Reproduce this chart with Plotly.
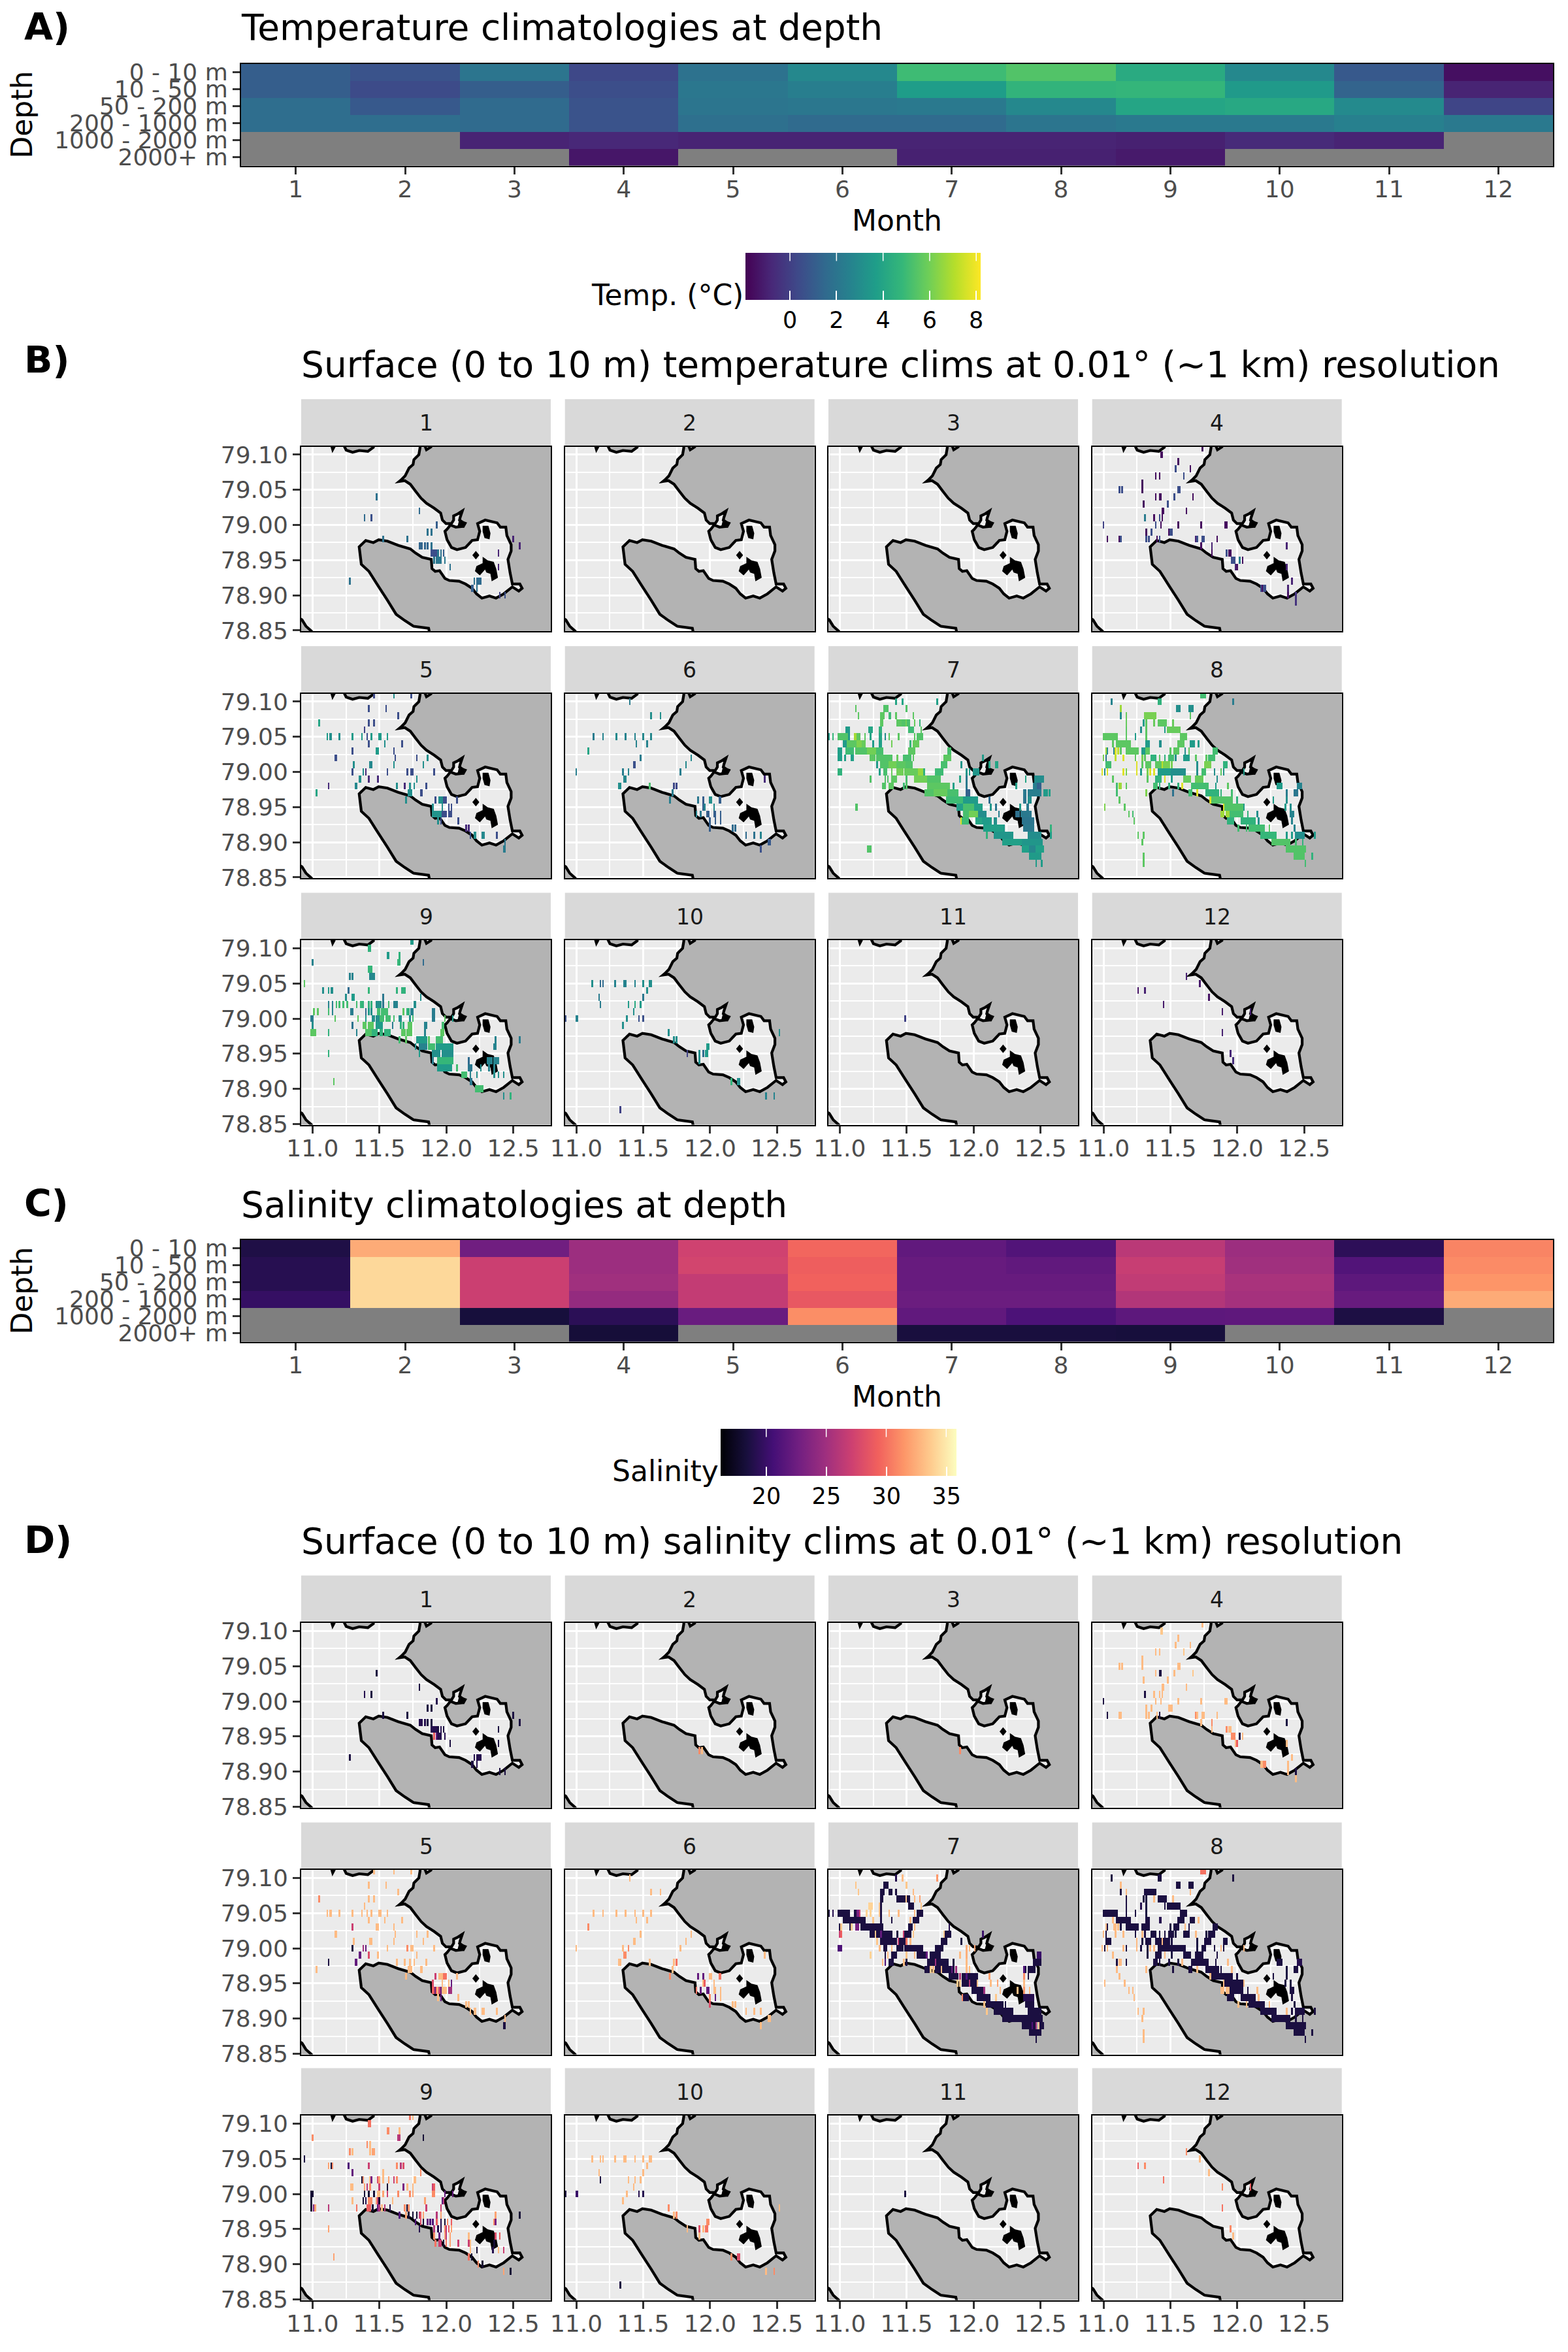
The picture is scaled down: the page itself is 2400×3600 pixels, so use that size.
import plotly.graph_objects as go

W, H = 2400, 3600
MONTHS = list(range(1, 13))
DEPTHS = ["0 - 10 m", "10 - 50 m", "50 - 200 m", "200 - 1000 m", "1000 - 2000 m", "2000+ m"]
N = None

# depth climatologies: one list per depth, 12 months
TEMP_DEPTH = [
    [1.1, 0.7, 2.0, 0.3, 1.9, 2.8, 5.0, 5.4, 4.25, 2.8, 0.9, -1.5],
    [1.1, 0.4, 1.1, 0.5, 2.1, 2.4, 3.65, 4.65, 4.75, 3.55, 1.3, -0.9],
    [1.7, 0.9, 1.6, 0.7, 2.0, 2.1, 2.2, 2.8, 4.0, 4.15, 2.9, 0.2],
    [1.7, 1.7, 1.6, 0.7, 1.8, 1.6, 1.6, 2.0, 2.2, 2.2, 2.5, 2.2],
    [N, N, -0.9, -0.8, -0.9, -0.9, -0.9, -0.9, -1.0, -0.7, -0.9, N],
    [N, N, N, -1.3, N, N, -1.0, -1.0, -1.2, N, N, N],
]
SAL_DEPTH = [
    [18.7, 32.3, 22.6, 24.8, 27.2, 29.5, 21.9, 21.2, 26.2, 24.8, 19.4, 30.7],
    [19.1, 34.2, 27.0, 24.8, 27.4, 29.1, 22.2, 21.9, 26.8, 25.0, 21.2, 31.0],
    [19.1, 34.2, 27.0, 25.0, 26.6, 29.3, 22.2, 22.2, 26.5, 25.4, 21.7, 31.4],
    [19.8, 34.2, 27.0, 24.4, 26.6, 28.7, 22.4, 22.4, 25.8, 25.2, 22.2, 32.3],
    [N, N, 18.3, 19.3, 22.3, 31.1, 21.9, 20.9, 21.7, 21.8, 18.6, N],
    [N, N, N, 18.2, N, N, 18.4, 18.4, 18.3, N, N, N],
]

# colour limits
T_MIN, T_MAX = -1.91, 8.19
S_MIN, S_MAX = 16.17, 35.8
T_TICKS = [0, 2, 4, 6, 8]
S_TICKS = [20, 25, 30, 35]

# Surface tiles. {latitude: [(lon_hundredths_above_11, value) or (first, last, value)]}
T_TILES = {
1: {79.04:[(48,1.9)],79.02:[(80,1.6)],79.01:[(39,1.6),(44,.6)],79.00:[(93,1.1)],78.99:[(86,1.9),(89,1.9)],
    78.98:[(53,1.9),(71,1.9),(150,-.9)],78.97:[(80,82,1.4),(84,1.4),(86,1.4),(89,1.9),(155,-.9)],
    78.96:[(89,93,.5),(94,2.1),(96,1.9),(98,1.1),(139,-.9)],78.95:[(91,2.1),(93,96,2.1),(99,2.1)],
    78.94:[(103,1.9),(139,-.9)],78.92:[(28,1.9),(121,1.9),(123,126,1.6)],78.91:[(119,120,1.1),(123,1.9)],
    78.90:[(140,.1),(144,.6)]},
2: {},
3: {},
4: {79.11:[(74,-1.6)],79.10:[(43,44,-1.6)],79.09:[(56,-1.6)],79.08:[(54,.5),(65,-1.6)],79.07:[(39,-1.6),(42,-1.6),(60,.5)],
    79.06:[(29,-1.6)],79.05:[(12,.5),(14,.5),(29,-1.6),(56,57,.5)],79.04:[(39,-1.6),(42,43,-1.6),(53,.5),(67,-1.6)],
    79.03:[(30,-1.6),(48,.5)],79.02:[(44,45,-1.6),(62,-1.6)],79.01:[(31,2.3),(38,-1.6),(42,.5),(44,-1.6)],
    79.00:[(0,.1),(39,.5),(43,-1.6),(56,-1.6),(73,-1.6),(91,92,-1.6)],78.99:[(32,-1.6),(36,.5),(49,-1.6),(50,51,.5)],
    78.98:[(3,-1.6),(12,-1.6),(13,.5),(32,.5),(34,.5),(40,-1.6),(42,.5),(69,-.9),(70,.5),(74,75,.5),(85,-1.6)],
    78.97:[(73,-1.6),(81,-.9),(137,-.9)],78.96:[(81,-1.6),(92,.5),(94,95,-1.6)],78.95:[(96,98,.5),(102,2.3),(104,-1.6)],
    78.94:[(99,-.9),(100,-1.4),(137,-.9)],78.92:[(141,-.9)],78.91:[(118,.5),(119,-1.6),(120,121,.5),(138,-.9)],
    78.90:[(138,-1.4),(144,-.4)],78.89:[(144,-.4)]},
5: {79.11:[(46,.3),(61,3.1),(74,.5)],79.09:[(42,.5),(55,.5)],79.08:[(64,.5)],79.07:[(5,4.0),(42,.5),(46,.5)],79.06:[(39,.1)],
    79.05:[(11,3.6),(13,14,3.1),(20,3.1),(30,3.6),(37,3.6),(41,.5),(44,3.6),(50,51,3.6),(56,3.6)],
    79.04:[(42,.5),(54,3.1),(67,.5)],79.03:[(30,.5),(48,49,3.6),(61,.5)],79.02:[(17,18,.5),(62,.5),(78,.5),(86,3.1)],
    79.01:[(31,3.1),(43,44,2.8),(61,3.1),(83,3.1)],79.00:[(30,.5),(38,3.1),(40,-.7),(56,.5),(71,.5),(74,75,.5),(91,.5)],
    78.99:[(35,36,3.1),(42,-.7),(49,-.7),(78,3.1)],78.98:[(12,-.7),(32,33,2.8),(63,3.1),(69,-.7),(73,3.1),(76,3.1),(85,.5)],
    78.97:[(3,4.0),(72,74,3.1),(81,82,.5)],78.96:[(70,3.1),(92,.5),(95,97,3.1),(98,100,.5),(108,.5)],
    78.95:[(90,3.1),(97,3.1),(102,.5),(104,.5)],78.94:[(90,96,3.3),(97,100,.5),(102,104,.5)],78.93:[(94,3.1),(96,.5),(109,.5)],
    78.92:[(115,-.7),(117,-.7)],78.91:[(118,.5),(121,122,3.1),(127,128,2.8),(138,.5)],78.90:[(144,2.1)],78.89:[(143,144,2.3)]},
6: {79.10:[(40,2.3)],79.08:[(56,3.1),(63,3.1)],79.05:[(13,2.3),(20,2.6),(30,2.9),(37,2.6),(44,2.6),(50,2.8),(56,2.8)],
    79.04:[(45,2.6),(53,2.6)],79.03:[(9,4.0)],79.02:[(48,2.3),(86,2.8)],79.01:[(43,44,.6),(82,2.8)],
    79.00:[(0,2.4),(35,2.4),(39,2.6),(78,2.4)],78.99:[(36,37,2.8),(141,-.7)],78.98:[(32,33,3.1),(55,5.2),(73,.3),(75,.3)],
    78.97:[(72,2.3)],78.96:[(70,2.4),(91,2.1),(95,1.1),(100,101,3.1),(107,108,1.1)],78.95:[(95,1.1),(96,2.6),(103,2.9)],
    78.94:[(90,2.6),(93,2.1),(98,99,1.1),(103,104,1.1),(108,1.1)],78.93:[(100,1.1),(104,1.1),(108,1.1)],
    78.92:[(100,1.1),(117,1.6),(119,1.6)],78.91:[(127,1.6),(133,1.9),(138,2.6)],78.90:[(144,145,.9)],78.89:[(138,.6)]},
7: {79.10:[(42,4.0),(47,4.0),(73,3.8)],79.09:[(12,5.6),(33,36,5.4),(50,5.4)],
    79.08:[(14,5.6),(31,33,5.6),(37,38,5.0),(42,5.6),(55,5.6)],
    79.07:[(31,32,5.6),(43,46,5.6),(47,49,5.4),(50,6.0),(51,52,5.2),(56,5.8),(60,4.8)],
    79.06:[(5,7,3.6),(22,24,4.0),(30,31,4.6),(52,55,5.0),(61,5.6)],
    79.05:[(-8,3.6),(-5,4.8),(-1,6,5.4),(7,3.6),(11,12,6.8),(13,15,5.6),(19,5.6),(23,4.0),(30,31,4.0),(34,3.0),(37,5.6),(44,5.6),(56,5.6),(58,62,5.4)],
    79.04:[(3,5,3.6),(6,12,5.6),(13,16,6.2),(17,19,5.8),(25,3.6),(30,31,3.8),(39,6.0),(53,4.8),(55,59,5.8)],
    79.03:[(-1,1,3.8),(5,10,5.0),(12,20,5.4),(21,27,6.0),(28,32,5.2),(52,56,5.6),(81,83,5.2)],
    79.02:[(-1,1,3.8),(4,3.8),(9,10,3.8),(23,26,5.6),(28,39,5.4),(43,5.8),(48,53,5.2),(55,5.6),(78,83,5.6),(107,3.6)],
    79.01:[(28,3.6),(31,36,5.4),(37,42,6.0),(43,49,5.6),(50,54,5.4),(76,80,5.2),(91,3.4),(112,4.0),(117,118,4.0)],
    79.00:[(-1,1,4.6),(30,3.8),(33,35,5.2),(39,5.8),(43,47,6.0),(49,58,5.8),(59,62,6.6),(63,4.6),(72,77,5.0),(95,3.4),(97,3.6),(100,104,3.4)],
    78.99:[(23,5.4),(34,5.4),(36,5.4),(39,42,5.6),(50,5.2),(56,65,6.0),(66,75,5.4),(90,4.0),(95,2.2),(139,4.0),(146,152,3.0)],
    78.98:[(32,34,5.4),(37,40,5.6),(48,5.0),(50,5.4),(66,82,5.6),(85,3.8),(95,2.2),(132,3.8),(145,147,2.4),(148,150,1.2)],
    78.97:[(64,70,5.4),(71,80,5.8),(81,88,5.2),(95,97,1.2),(138,139,2.2),(141,150,2.4),(153,155,3.6),(157,3.8)],
    78.96:[(80,92,5.0),(93,103,3.6),(112,1.6),(138,139,2.0),(141,143,3.0)],
    78.95:[(12,13,5.4),(88,92,3.8),(93,100,5.2),(101,106,3.8),(113,3.4),(117,2.0),(135,3.6),(140,141,2.2)],
    78.94:[(93,96,5.2),(97,103,6.0),(104,109,3.0),(119,2.4),(132,134,1.8),(136,143,2.2)],
    78.93:[(91,7.6),(92,96,5.0),(102,106,4.0),(107,113,3.6),(116,117,3.2),(137,145,2.0)],
    78.92:[(108,122,3.8),(123,3.4),(138,145,2.2),(158,4.6)],
    78.91:[(110,4.6),(116,129,3.4),(141,150,3.0),(158,3.8)],
    78.90:[(122,136,3.8),(137,151,3.4)],78.89:[(21,23,5.4),(137,141,3.8),(142,146,2.8),(147,152,3.8)],
    78.88:[(142,150,3.6)],78.87:[(147,3.6),(151,3.6)]},
8: {79.11:[(73,76,5.1)],79.10:[(6,2.6),(41,43,4.6),(97,2.3)],79.09:[(13,6.7),(55,57,3.1),(64,67,3.1)],
    79.08:[(13,3.1),(17,5.8),(31,39,6.1),(65,5.6)],79.07:[(17,5.8),(30,3.6),(32,5.6),(38,5.8),(41,47,5.6),(52,5.8)],
    79.06:[(17,5.6),(28,3.1),(32,5.6),(46,3.6),(48,57,5.8)],79.05:[(0,10,5.6),(17,5.6),(24,3.6),(32,5.6),(58,62,5.6)],
    79.04:[(7,5.6),(10,20,5.6),(32,34,3.6),(42,43,3.1),(56,60,5.6),(65,68,3.6),(71,3.6)],
    79.03:[(2,6.7),(3,3.1),(8,2.6),(9,7.7),(11,7.2),(13,5.6),(17,26,5.6),(29,31,3.6),(32,34,5.6),(50,5.6),(53,56,5.6),(61,3.1),(64,5.6),(82,85,5.1)],
    79.02:[(0,6.1),(2,2.1),(9,7.2),(15,7.7),(24,5.6),(29,6.1),(31,5.6),(36,39,4.6),(42,5.6),(46,4.6),(49,52,5.1),(54,3.1),(60,64,3.6),(69,5.6),(77,5.6),(79,83,5.1)],
    79.01:[(2,5,5.1),(25,7.7),(29,5.6),(32,35,5.6),(39,43,5.6),(44,7.2),(45,49,6.1),(51,6.1),(70,3.1),(76,80,6.1),(90,92,4.6)],
    79.00:[(-1,7.7),(1,3.1),(3,7.7),(15,7.7),(17,6.1),(25,7.7),(28,3.6),(33,6.1),(35,7.7),(38,7.7),(41,50,3.6),(51,61,3.1),(70,3.1),(74,76,5.1),(83,3.1),(88,5.6),(90,3.1),(105,3.6)],
    78.99:[(7,5.6),(33,5.6),(39,43,4.6),(46,7.7),(51,3.6),(60,65,5.8),(69,74,5.8),(85,3.1)],
    78.98:[(10,5.1),(12,13,6.7),(17,5.6),(38,40,5.1),(42,4.6),(49,4.6),(56,4.6),(59,7.7),(66,78,5.1),(84,3.6),(93,5.6),(130,133,3.6),(145,148,2.6)],
    78.97:[(10,5.1),(32,6.2),(52,1.9),(64,66,5.1),(70,7.7),(77,86,4.6),(88,4.6),(96,5.1),(137,2.3),(143,145,2.1)],
    78.96:[(12,5.6),(80,7.7),(81,96,5.4),(100,4.6),(127,3.6),(137,3.1)],
    78.95:[(1,6.2),(16,5.6),(90,7.7),(91,104,5.4),(105,3.6),(136,3.6),(140,3.1)],
    78.94:[(19,5.6),(22,5.1),(88,90,6.7),(92,94,6.7),(95,104,5.1),(108,4.6),(115,3.1),(140,142,2.6)],
    78.93:[(23,5.6),(93,97,4.6),(103,113,4.6),(116,3.1),(141,2.6)],
    78.92:[(101,5.1),(107,5.1),(109,120,5.1),(124,5.6),(143,2.6)],
    78.91:[(26,5.6),(30,5.6),(118,129,4.8),(137,3.6),(141,3.6),(144,150,3.1),(158,3.6)],
    78.90:[(29,5.6),(126,139,5.4),(144,5.1),(149,4.6)],78.89:[(137,151,5.4)],78.88:[(30,5.6),(143,150,5.4),(156,4.6)],
    78.87:[(30,5.6),(151,5.1)]},
9: {79.11:[(74,75,3.6)],79.10:[(42,43,4.6)],79.09:[(56,57,3.6),(65,4.6)],79.08:[(0,2.6),(64,65,4.8),(83,1.6)],
    79.07:[(42,44,4.8)],79.06:[(28,2.6),(30,2.6),(43,46,2.8)],79.05:[(-6,5.6)],
    79.04:[(8,3.1),(12,3.6),(14,15,3.1),(27,1.6),(42,4.8),(63,4.6),(67,69,4.6)],79.03:[(25,3.1),(30,31,3.6),(53,2.1),(81,3.1)],
    79.02:[(12,2.6),(15,2.6),(18,5.1),(20,5.1),(23,5.1),(26,5.1),(33,5.1),(36,37,4.8),(38,4.6),(42,4.6),(44,4.6),(48,51,3.1),(53,2.1),(57,5.1),(61,63,2.6),(76,77,3.1)],
    79.01:[(1,5.6),(4,5.6),(12,5.1),(15,2.6),(29,30,2.3),(40,1.6),(42,3.6),(44,3.1),(49,50,5.1),(52,56,5.1),(68,5.6),(71,72,4.6),(74,75,2.6),(90,91,2.3)],
    79.00:[(-1,0,2.3),(17,5.6),(34,5.6),(40,3.6),(45,46,3.1),(48,50,3.1),(51,53,5.1),(55,58,5.1),(61,5.1),(65,66,3.1),(73,3.1),(75,5.1),(90,91,2.3),(99,5.6),(105,3.6)],
    78.99:[(0,3.1),(30,1.9),(38,40,5.6),(42,45,5.6),(48,52,3.6),(60,2.3),(66,4.6),(68,4.6),(72,74,5.6),(84,85,2.6),(97,98,5.1)],
    78.98:[(-1,2,5.6),(12,4.6),(33,2.6),(40,44,5.4),(45,48,4.6),(51,52,4.6),(54,58,4.6),(67,69,5.6),(71,74,5.6),(84,2.6),(96,98,5.6)],
    78.97:[(65,5.1),(70,5.6),(78,85,3.6),(87,5.6),(93,97,5.1),(137,2.6),(155,2.3)],
    78.96:[(77,3.1),(80,85,2.6),(87,91,5.1),(93,105,3.6),(136,137,2.6)],78.95:[(12,4.6),(80,3.6),(90,95,3.1),(97,105,3.1)],
    78.94:[(90,2.3),(94,105,4.8),(117,1.6),(131,134,2.6),(136,139,2.6)],
    78.93:[(94,104,3.6),(108,5.1),(117,119,2.1),(126,3.1),(132,2.6),(136,2.6)],
    78.92:[(112,115,5.1),(118,2.6),(123,3.1),(136,3.1),(139,3.1),(143,3.1)],78.91:[(16,5.6),(118,119,2.1)],
    78.90:[(122,127,5.1)],78.89:[(143,3.1),(148,4.6)]},
10:{79.05:[(12,3.1),(18,1.6),(20,1.6),(29,2.6),(36,37,2.6),(44,2.6),(50,3.1),(55,56,3.1)],79.04:[(53,3.1)],79.03:[(17,2.3),(50,2.1)],
    79.02:[(18,2.3),(39,3.6),(44,4.2),(48,3.6)],79.01:[(43,3.1)],79.00:[(-8,.6),(0,1,2.6),(38,3.1),(47,.6),(50,.6)],78.99:[(35,3.1)],
    78.98:[(69,3.1),(152,3.1)],78.97:[(73,3.1),(75,3.1)],78.96:[(98,99,3.6)],78.95:[(83,.1),(92,3.1),(95,1.6),(97,98,3.6)],
    78.94:[(92,3.1)],78.91:[(116,4.7),(121,122,3.1)],78.89:[(142,2.6),(148,2.6)],78.87:[(33,.1)]},
11:{79.00:[(49,.1)]},
12:{79.06:[(62,-1.0)],79.05:[(72,-1.2)],79.04:[(26,-1.4),(31,-1.0)],79.03:[(79,-1.4)],79.02:[(45,-1.2)],
    79.01:[(89,-1.2),(110,-1.0)],78.98:[(89,-1.0)],78.95:[(95,-.8)],78.94:[(97,-.6)]},
}

S_TILES = {
1: {79.04:[(48,18.5)],79.02:[(80,18.5)],79.01:[(39,19),(44,18.5)],79.00:[(93,19)],78.99:[(86,18.5),(89,18.5)],
    78.98:[(53,18.5),(71,18.5),(150,18.5)],78.97:[(80,82,19),(84,19),(86,18.5),(89,18.5),(155,18.5)],
    78.96:[(89,93,19),(94,18.5),(96,19),(98,18.5),(139,18.5)],78.95:[(91,29),(93,22),(94,96,19),(99,19)],
    78.94:[(103,18.5),(139,18.5)],78.92:[(28,18.5),(121,19),(123,126,19)],78.91:[(119,120,18.5),(123,19)],
    78.90:[(140,18.5),(144,18.5)]},
2: {78.93:[(92,31),(94,33)]},
3: {78.93:[(90,31)]},
4: {79.11:[(74,33)],79.10:[(43,44,33.5)],79.09:[(56,33)],79.08:[(54,33),(65,33)],79.07:[(39,33),(42,33),(60,33.5)],
    79.06:[(29,33)],79.05:[(12,33),(14,33),(29,33),(56,57,33)],79.04:[(39,33),(42,43,18.5),(53,33),(67,33.5)],
    79.03:[(30,33),(48,33)],79.02:[(44,45,33),(62,33)],79.01:[(31,18.5),(38,33),(42,33),(44,33)],
    79.00:[(0,18.5),(39,33),(43,33),(56,33),(73,33),(91,92,33)],78.99:[(32,33),(36,33),(49,33),(50,51,33)],
    78.98:[(3,18.5),(12,33),(13,33),(32,33),(34,33),(40,33),(42,18.5),(69,31),(70,33),(74,75,33),(85,33)],
    78.97:[(73,33),(81,31),(137,18.5)],78.96:[(81,33),(92,31),(94,95,33)],78.95:[(96,98,31),(102,18.5),(104,33)],
    78.94:[(99,33),(100,29),(137,33)],78.92:[(141,33)],78.91:[(118,33),(119,33),(120,121,31),(138,33)],
    78.90:[(138,33),(144,18.5)],78.89:[(144,33)]},
5: {79.11:[(46,33),(61,33),(74,33)],79.09:[(42,33),(55,33)],79.08:[(64,33)],79.07:[(5,31),(42,33),(46,33)],79.06:[(39,33)],
    79.05:[(11,33),(13,14,33),(20,33),(30,33),(37,33),(41,33),(44,33),(50,51,33),(56,33)],
    79.04:[(42,33),(54,33),(67,33)],79.03:[(30,27),(48,49,33),(61,33)],79.02:[(17,18,33),(62,33),(78,33),(86,33)],
    79.01:[(31,33),(43,44,33),(61,33),(83,33)],79.00:[(30,18.5),(38,25),(40,22),(56,33),(71,31),(74,75,33),(91,33)],
    78.99:[(35,36,22),(42,28),(49,33),(78,33)],78.98:[(12,18.5),(32,33,22),(63,33),(69,33),(73,33),(76,33),(85,33)],
    78.97:[(3,33),(72,74,33),(81,82,33)],78.96:[(70,33),(92,27),(95,97,33),(98,100,30),(108,33)],
    78.95:[(90,28),(97,33),(102,33),(104,22)],78.94:[(90,91,29),(92,22),(93,30),(94,33),(95,27),(96,22),(97,100,33),(102,104,25)],78.93:[(94,33),(96,22),(109,33)],
    78.92:[(115,33),(117,33)],78.91:[(118,33),(121,122,33),(127,128,33),(138,33)],78.90:[(144,33)],78.89:[(143,144,18.5)]},
6: {79.10:[(40,33)],79.08:[(56,33),(63,33)],79.05:[(13,33),(20,33),(30,33),(37,33),(44,33),(50,33),(56,33)],
    79.04:[(45,33),(53,33)],79.03:[(9,31)],79.02:[(48,33),(86,33)],79.01:[(43,44,33),(82,33)],
    79.00:[(0,33),(35,33),(39,31),(78,33)],78.99:[(36,37,31),(141,33)],78.98:[(32,33,33),(55,33),(73,33),(75,30)],
    78.97:[(72,33)],78.96:[(70,31),(91,22),(95,22),(100,101,33),(107,108,30)],78.95:[(95,33),(96,29),(103,33)],
    78.94:[(90,30),(93,22),(98,99,22),(103,104,33),(108,33)],78.93:[(100,31),(104,22),(108,33)],
    78.92:[(100,28),(117,33),(119,33)],78.91:[(127,33),(133,33),(138,33)],78.90:[(144,145,33)],78.89:[(138,33)]},
7: {79.10:[(42,19),(47,33),(73,31.5)],79.09:[(12,33.5),(33,36,18.5),(50,33.5)],
    79.08:[(14,33.5),(31,33,18.5),(37,39,18.5),(42,18.5),(55,33)],
    79.07:[(31,32,18.5),(43,49,18.5),(50,33.5),(51,52,18.5),(56,33),(60,32)],
    79.06:[(22,24,34),(30,33.5),(31,18.5),(52,55,18.5),(61,33.5)],
    79.05:[(-8,18.5),(-5,19),(-1,7,18.5),(11,12,18.5),(13,14,23),(15,27),(20,34),(23,34),(30,33.5),(31,18.5),(37,33),(44,33),(56,33),(58,62,18.5)],
    79.04:[(3,19,18.5),(25,33.5),(31,18.5),(39,18.5),(53,33),(55,59,18.5)],
    79.03:[(0,18.5),(1,33.5),(8,18.5),(9,33.5),(12,14,23),(16,32,18.5),(52,54,18.5),(56,33),(82,19)],
    79.02:[(0,27),(1,29),(23,26,18.5),(27,33.5),(28,30,18.5),(31,22),(32,39,18.5),(43,18.5),(48,27),(49,53,18.5),(55,33.5),(78,33.5),(79,83,18.5),(107,20)],
    79.01:[(28,33.5),(31,42,18.5),(44,27),(45,49,18.5),(50,30),(53,33),(76,80,18.5),(91,18.5)],
    79.00:[(-1,1,21),(30,33),(33,35,18.5),(39,33),(43,47,18.5),(49,62,18.5),(72,77,18.5),(95,32.5),(97,33),(101,32)],
    78.99:[(23,34),(34,18.5),(36,33),(39,42,18.5),(50,33.5),(56,33),(58,64,18.5),(65,22),(68,75,18.5),(90,33),(95,32.5),(148,150,20)],
    78.98:[(32,33),(34,21),(37,40,18.5),(48,33),(50,18.5),(66,71,18.5),(72,25),(73,81,18.5),(85,18.5),(95,33),(145,150,18.5)],
    78.97:[(64,67,18.5),(68,33.5),(70,33),(72,75,18.5),(76,33),(77,83,18.5),(84,22),(85,18.5),(87,25),(95,33),(97,33),(138,21),(139,18.5),(141,146,18.5)],
    78.96:[(82,88,18.5),(90,26),(92,94,18.5),(95,21),(96,103,18.5),(112,32),(138,31),(141,18.5)],
    78.95:[(88,33.5),(90,33.5),(92,96,18.5),(97,26),(98,102,18.5),(103,33),(113,33),(118,32),(138,33)],
    78.94:[(99,107,18.5),(108,25),(120,33),(133,33),(138,31.5),(142,33)],
    78.93:[(92,31),(93,96,18.5),(103,112,18.5),(117,33.5),(138,145,19)],
    78.92:[(108,33),(110,122,18.5),(124,18.5),(139,145,18.5)],78.91:[(110,33.5),(116,129,18.5),(141,150,18.5)],
    78.90:[(122,151,18.5)],78.89:[(137,143,18.5),(144,21),(145,146,18.5),(147,25),(149,33.5),(150,152,18.5)],
    78.88:[(142,150,18.5)],78.87:[(147,18.5)]},
8: {79.11:[(73,76,30)],79.10:[(6,18.5),(41,43,18.5),(97,18.5)],79.09:[(13,33),(55,57,18.5),(64,67,18.5)],
    79.08:[(13,18.5),(17,33),(31,39,18.5),(65,33)],79.07:[(17,18.5),(30,18.5),(32,18.5),(38,33),(41,47,18.5),(52,33)],
    79.06:[(17,18.5),(28,19),(32,18.5),(46,18.5),(48,57,18.5)],79.05:[(0,10,18.5),(17,18.5),(24,18.5),(32,18.5),(58,62,18.5)],
    79.04:[(7,33),(10,20,18.5),(32,34,18.5),(42,43,19),(56,60,18.5),(65,68,18.5),(71,33)],
    79.03:[(2,33),(3,18.5),(8,33),(9,33),(11,33),(13,18.5),(17,26,18.5),(29,31,18.5),(32,34,18.5),(50,18.5),(53,56,18.5),(61,33),(64,18.5),(82,85,18.5)],
    79.02:[(0,33),(2,18.5),(9,33),(15,33),(24,18.5),(29,33),(31,18.5),(36,39,18.5),(42,18.5),(46,18.5),(49,52,18.5),(54,18.5),(60,64,18.5),(69,33),(77,18.5),(79,83,18.5)],
    79.01:[(2,5,18.5),(25,33),(29,18.5),(32,35,18.5),(39,43,18.5),(44,33),(45,49,18.5),(51,18.5),(70,18.5),(76,80,18.5),(90,92,18.5)],
    79.00:[(-1,33),(1,18.5),(3,33),(15,33),(17,18.5),(25,33),(28,18.5),(33,18.5),(35,33),(38,33),(41,50,18.5),(51,61,18.5),(70,18.5),(74,76,18.5),(83,18.5),(88,33),(90,18.5),(105,33)],
    78.99:[(7,33),(33,18.5),(39,43,18.5),(46,33),(51,18.5),(60,65,18.5),(69,74,18.5),(85,18.5)],
    78.98:[(10,18.5),(12,13,33),(17,18.5),(38,40,18.5),(42,18.5),(49,18.5),(56,18.5),(59,33),(66,78,18.5),(84,18.5),(93,33),(130,133,18.5),(145,148,19)],
    78.97:[(10,33),(32,33),(52,18.5),(64,66,18.5),(70,33),(77,86,18.5),(88,18.5),(96,33),(137,18.5),(143,145,18.5)],
    78.96:[(12,33),(80,33),(81,96,18.5),(100,18.5),(127,18.5),(137,18.5)],
    78.95:[(1,33),(16,33),(90,33),(91,104,18.5),(105,33),(136,18.5),(140,18.5)],
    78.94:[(19,33),(22,33),(88,90,33),(92,94,33),(95,104,18.5),(108,18.5),(115,33),(140,142,18.5)],
    78.93:[(23,33),(93,97,18.5),(103,113,18.5),(116,33),(141,18.5)],
    78.92:[(101,33),(107,33),(109,120,18.5),(124,33),(143,18.5)],
    78.91:[(26,33),(30,33),(118,129,18.5),(137,33),(141,18.5),(144,150,18.5),(158,18.5)],
    78.90:[(29,33),(126,139,18.5),(144,18.5),(149,18.5)],78.89:[(137,151,18.5)],78.88:[(30,33),(143,150,18.5),(156,18.5)],
    78.87:[(30,33),(151,18.5)]},
9: {79.11:[(73,30),(75,33)],79.10:[(42,43,30)],79.09:[(56,57,31),(65,33)],79.08:[(0,31),(64,65,26),(83,18)],
    79.07:[(41,31),(43,33)],79.06:[(28,31),(30,33),(43,33),(45,46,32)],79.05:[(-6,18.5)],
    79.04:[(12,32),(14,18),(15,31),(27,21),(42,27),(63,31),(66,26),(68,28)],79.03:[(30,22),(53,33),(81,31)],
    79.02:[(37,18),(38,31),(43,33),(44,23),(49,28),(50,32),(53,33),(57,32),(61,27),(63,31),(76,77,33)],
    79.01:[(29,30,33),(39,32),(41,26),(43,31),(50,27),(56,18),(68,23),(71,33),(75,33),(90,27),(91,29)],
    79.00:[(-1,0,18),(39,18),(42,18),(46,18),(49,50,33),(53,32),(56,27),(64,31),(73,31),(75,32),(90,91,31),(99,22),(105,22)],
    78.99:[(-1,18),(30,33),(38,18),(40,19),(42,44,31),(48,32),(49,27),(50,18),(60,33),(84,32),(97,22),(98,26)],
    78.98:[(-1,18),(1,23),(2,32),(12,26),(33,30),(41,43,29),(45,18),(49,22),(50,26),(52,33),(54,26),(58,19),(69,31),(71,18),(72,31),(85,27),(96,27)],
    78.97:[(65,21),(70,32),(72,18),(75,18),(78,18),(80,27),(81,29),(83,32),(93,26),(96,32),(137,32),(155,18)],
    78.96:[(77,21),(81,28),(83,18),(86,22),(88,21),(90,21),(93,29),(96,19),(99,18),(101,31),(104,29),(136,31),(137,23)],
    78.95:[(12,32),(80,19),(91,26),(94,19),(96,19),(99,31),(100,26),(102,29),(104,32)],
    78.94:[(91,31),(95,22),(99,32),(100,26),(103,32),(117,33),(137,28),(140,29)],
    78.93:[(92,30),(95,96,27),(98,18),(100,30),(103,32),(109,27),(117,27),(118,33),(136,18)],
    78.92:[(118,33),(123,18),(135,19),(139,33),(143,27)],78.91:[(16,32),(117,30),(119,18)],78.90:[(124,31),(127,18)],
    78.89:[(143,32),(148,18)]},
10:{79.05:[(12,33),(18,33),(20,33),(29,33),(36,37,33),(44,33),(50,33),(55,56,33)],79.04:[(53,33)],79.03:[(17,33),(50,33)],
    79.02:[(18,18.5),(39,33),(44,33),(48,33)],79.01:[(43,33)],79.00:[(-8,18.5),(0,1,20),(38,33),(47,19),(50,19)],78.99:[(35,33)],
    78.98:[(69,31),(152,33)],78.97:[(73,33),(75,31)],78.96:[(98,99,31)],78.95:[(83,33),(92,28),(95,33),(97,98,30)],
    78.94:[(92,33)],78.91:[(116,31),(121,122,28)],78.89:[(142,33),(148,31)],78.87:[(33,18.5)]},
11:{79.00:[(49,18.5)]},
12:{79.06:[(62,31)],79.05:[(72,33)],79.04:[(26,29),(31,31)],79.03:[(79,33)],79.02:[(45,30)],
    79.01:[(89,31),(110,29)],78.98:[(89,30)],78.95:[(95,31)],78.94:[(97,33)]},
}

# Coastline (lon, lat)
COAST_LON = [11.804,11.804,11.795,11.758,11.752,11.722,11.693,11.662,11.649,11.690,11.731,11.771,11.812,11.852,11.909,11.958,11.971,11.998,12.039,12.055,12.055,12.088,12.120,12.104,12.099,12.136,12.120,12.071,12.031,12.006,11.990,12.006,12.039,12.080,12.144,12.193,12.234,12.250,12.234,12.291,12.380,12.404,12.445,12.453,12.485,12.485,12.461,12.477,12.494,12.550,12.567,12.542,12.494,12.429,12.372,12.323,12.266,12.226,12.193,12.144,12.096,12.023,11.990,11.950,11.917,11.893,11.888,11.820,11.771,11.731,11.641,11.560,11.495,11.455,11.398,11.349,11.365,11.422,11.495,11.560,11.625,11.690,11.755,11.868,11.877,12.90,12.90,11.804]
COAST_LAT = [79.115,79.110,79.100,79.093,79.086,79.081,79.070,79.064,79.062,79.063,79.058,79.048,79.038,79.031,79.024,79.017,79.007,79.002,79.002,79.007,79.013,79.016,79.020,79.011,79.007,79.002,78.998,78.997,79.000,78.994,78.991,78.979,78.968,78.965,78.968,78.978,78.979,78.991,79.002,79.007,79.003,78.997,78.997,78.985,78.972,78.963,78.951,78.932,78.916,78.916,78.910,78.906,78.912,78.902,78.896,78.899,78.896,78.902,78.910,78.916,78.920,78.921,78.924,78.935,78.934,78.938,78.951,78.954,78.960,78.966,78.971,78.977,78.979,78.975,78.978,78.969,78.944,78.934,78.912,78.893,78.873,78.864,78.856,78.853,78.845,78.845,79.115,79.115]
NORTH_LON = [11.227,11.252,11.300,11.349,11.414,11.455,11.455,11.227]
NORTH_LAT = [79.116,79.1065,79.1034,79.106,79.1047,79.1106,79.116,79.116]
TOPBLOB1_LON = [11.833,11.852,11.885,11.885,11.833]
TOPBLOB1_LAT = [79.116,79.107,79.111,79.116,79.116]
TOPBLOB2_LON = [11.138,11.151,11.162,11.162,11.138]
TOPBLOB2_LAT = [79.116,79.1075,79.1115,79.116,79.116]
CORNER_LON = [10.88,10.922,10.951,10.992,10.992,10.88]
CORNER_LAT = [78.870,78.865,78.856,78.849,78.84,78.84]
ISLANDS = [
    ([12.282,12.307,12.320,12.315,12.294,12.282],[78.997,78.997,78.988,78.982,78.983,78.991]),
    ([12.266,12.278,12.25,12.226,12.234],[78.943,78.937,78.931,78.935,78.940]),
    ([12.282,12.304,12.347,12.364,12.375,12.347,12.339,12.307,12.291,12.282],[78.951,78.948,78.946,78.937,78.926,78.923,78.932,78.934,78.941,78.946]),
    ([12.104,12.141,12.128,12.096],[79.005,79.0025,78.998,78.999]),
]
RING_LON = [12.208,12.221,12.234,12.221]
RING_LAT = [78.957,78.960,78.957,78.954]

# Tiles are drawn about 1.25 grid steps wide, as in the figure, so the x grid is four times finer than 0.01 deg
SUB = 4
LON_GRID = [round(11 + i / (100 * SUB), 4) for i in range(-10 * SUB, 182 * SUB)]
LAT_GRID = [round(78.85 + i / 100, 2) for i in range(0, 28)]


def px(x):
    return x / W


def py(y):
    return 1 - y / H


def tile_grid(rows):
    z = [[None] * len(LON_GRID) for _ in LAT_GRID]
    for lat, runs in rows.items():
        j = LAT_GRID.index(lat)
        for run in runs:
            first, last, val = (run[0], run[0], run[1]) if len(run) == 2 else run
            for c in range(first, last + 1):
                mid = (c + 10) * SUB
                for k in range(-2, 3):
                    z[j][mid + k] = val
    return z


def path(lons, lats):
    return "M" + "L".join(f"{a},{b}" for a, b in zip(lons, lats)) + "Z"


TICK_FONT = dict(family="DejaVu Sans", size=36, color="#4D4D4D")
LAND = " ".join([path(COAST_LON, COAST_LAT), path(NORTH_LON, NORTH_LAT), path(TOPBLOB1_LON, TOPBLOB1_LAT),
                 path(TOPBLOB2_LON, TOPBLOB2_LAT), path(CORNER_LON, CORNER_LAT)])
ISLE = " ".join(path(a, b) for a, b in ISLANDS)

fig = go.Figure()
layout = {}
shapes = []
annotations = []
axis_no = [0]


def new_axes(x0, x1, y0, y1):
    axis_no[0] += 1
    n = axis_no[0]
    sx = "" if n == 1 else str(n)
    return n, "x" + sx, "y" + sx, "xaxis" + sx, "yaxis" + sx, [px(x0), px(x1)], [py(y1), py(y0)]


def text(x, y, s, size, color="black", bold=False, xanchor="left", yanchor="middle", angle=0):
    annotations.append(dict(xref="paper", yref="paper", x=px(x), y=py(y), text=f"<b>{s}</b>" if bold else s,
                            showarrow=False, xanchor=xanchor, yanchor=yanchor, textangle=angle,
                            font=dict(family="DejaVu Sans", size=size, color=color),
                            borderpad=0, borderwidth=0))


def heat_panel(top, values, color_axis):
    n, xr, yr, xk, yk, xd, yd = new_axes(369, 2377, top, top + 156.2)
    fig.add_trace(go.Heatmap(x=MONTHS, y=DEPTHS, z=values, coloraxis=color_axis, xaxis=xr, yaxis=yr, hoverinfo="skip"))
    shapes.append(dict(type="rect", xref=xr + " domain", yref=yr + " domain", x0=0, x1=1, y0=0, y1=1,
                       fillcolor="#7F7F7F", line_width=0, layer="below"))
    layout[xk] = dict(domain=xd, anchor=yr, range=[0.5, 12.5], tickmode="array", tickvals=MONTHS, ticktext=[str(m) for m in MONTHS],
                      ticks="outside", ticklen=11, tickwidth=3, tickcolor="#333333", tickfont=TICK_FONT, automargin=False,
                      ticklabelstandoff=-8,
                      showgrid=False, zeroline=False, showline=True, mirror=True, linecolor="black", linewidth=2,
                      title=dict(text="Month", font=dict(family="DejaVu Sans", size=44, color="black"), standoff=13))
    layout[yk] = dict(domain=yd, anchor=xr, type="category", categoryorder="array", categoryarray=DEPTHS,
                      tickmode="array", tickvals=DEPTHS, ticktext=DEPTHS, automargin=False,
                      range=[5.5, -0.5], ticks="outside", ticklen=11, tickwidth=3, tickcolor="#333333", tickfont=TICK_FONT,
                      showgrid=False, zeroline=False, showline=True, mirror=True, linecolor="black", linewidth=2,
                      title=dict(text="Depth", font=dict(family="DejaVu Sans", size=44, color="black"), standoff=20))


def map_panels(tops, tiles, color_axis):
    lefts = [461, 864.7, 1268, 1671.7]
    for m in MONTHS:
        r, c = (m - 1) // 4, (m - 1) % 4
        x0, y0 = lefts[c], tops[r]
        n, xr, yr, xk, yk, xd, yd = new_axes(x0, x0 + 382, y0, y0 + 282.5)
        fig.add_trace(go.Heatmap(x=LON_GRID, y=LAT_GRID, z=tile_grid(tiles[m]), coloraxis=color_axis,
                                 xaxis=xr, yaxis=yr, hoverinfo="skip", hoverongaps=False))
        for d, fc in ((LAND, "#B3B3B3"), (ISLE, "black"), (path(RING_LON, RING_LAT), "#EBEBEB")):
            shapes.append(dict(type="path", xref=xr, yref=yr, path=d, fillcolor=fc, layer="between",
                               line=dict(color="black", width=4.2)))
        shapes.append(dict(type="rect", xref="paper", yref="paper", x0=px(x0), x1=px(x0 + 382), y0=py(y0), y1=py(y0 - 72.5),
                           fillcolor="#D9D9D9", line_width=0, layer="below"))
        text(x0 + 191, y0 - 36, str(m), 33, color="#1A1A1A", xanchor="center")
        layout[xk] = dict(domain=xd, anchor=yr, range=[10.9155, 12.781], tickmode="array", tickvals=[11, 11.5, 12, 12.5],
                          ticktext=["11.0", "11.5", "12.0", "12.5"] if r == 2 else [""] * 4, automargin=False,
                          ticklabelstandoff=-8,
                          ticks="outside" if r == 2 else "", ticklen=11, tickwidth=3, tickcolor="#333333", tickfont=TICK_FONT,
                          showgrid=True, gridcolor="white", gridwidth=3.4, zeroline=False, showline=True, mirror=True,
                          linecolor="black", linewidth=2,
                          minor=dict(tickvals=[11.25, 11.75, 12.25, 12.75], showgrid=True, gridcolor="white", gridwidth=1.7, ticks=""))
        layout[yk] = dict(domain=yd, anchor=xr, range=[78.849, 79.1116], tickmode="array", tickvals=[78.85, 78.9, 78.95, 79.0, 79.05, 79.1],
                          ticktext=["78.85", "78.90", "78.95", "79.00", "79.05", "79.10"] if c == 0 else [""] * 6, automargin=False,
                          ticks="outside" if c == 0 else "", ticklen=11, tickwidth=3, tickcolor="#333333", tickfont=TICK_FONT,
                          showgrid=True, gridcolor="white", gridwidth=3.4, zeroline=False, showline=True, mirror=True,
                          linecolor="black", linewidth=2,
                          minor=dict(tickvals=[78.875, 78.925, 78.975, 79.025, 79.075], showgrid=True, gridcolor="white", gridwidth=1.7, ticks=""))


heat_panel(97.5, TEMP_DEPTH, "coloraxis")
map_panels([683.5, 1061.5, 1439], T_TILES, "coloraxis")
heat_panel(1897.5, SAL_DEPTH, "coloraxis2")
map_panels([2484, 2862, 3238], S_TILES, "coloraxis2")


def colour_axis(cs, lo, hi, ticks, left, right, top):
    # the guide has ticks on both edges: the colour bar draws the lower ones, the upper ones are annotation lines
    for v in ticks:
        annotations.append(dict(xref="paper", yref="paper", x=px(left + (v - lo) / (hi - lo) * (right - left)), y=py(top),
                                text="", showarrow=True, arrowhead=0, arrowwidth=1.5, arrowcolor="white",
                                axref="pixel", ayref="pixel", ax=0, ay=14, standoff=0, startstandoff=0))
    return dict(colorscale=cs, cmin=lo, cmax=hi, colorbar=dict(
        orientation="h", lenmode="pixels", len=right - left, thicknessmode="pixels", thickness=72,
        x=px(left), xanchor="left", y=py(top), yanchor="top", xpad=0, ypad=0, outlinewidth=0, borderwidth=0,
        tickmode="array", tickvals=ticks, ticks="inside", ticklen=14, tickwidth=1.5, tickcolor="white",
        tickfont=dict(family="DejaVu Sans", size=35, color="black")))


layout["coloraxis"] = colour_axis("viridis", T_MIN, T_MAX, T_TICKS, 1141, 1501, 387)
layout["coloraxis2"] = colour_axis("magma", S_MIN, S_MAX, S_TICKS, 1102.5, 1463, 2187)

text(37, 41, "A)", 57, bold=True)
text(369, 42, "Temperature climatologies at depth", 55)
text(1138, 451, "Temp. (°C)", 44, xanchor="right")
text(37, 551, "B)", 57, bold=True)
text(461, 558, "Surface (0 to 10 m) temperature clims at 0.01° (~1 km) resolution", 55)
text(37, 1842, "C)", 57, bold=True)
text(369, 1844, "Salinity climatologies at depth", 55)
text(1100, 2251, "Salinity", 44, xanchor="right")
text(37, 2357, "D)", 57, bold=True)
text(461, 2359, "Surface (0 to 10 m) salinity clims at 0.01° (~1 km) resolution", 55)

fig.update_layout(width=W, height=H, autosize=False, margin=dict(l=0, r=0, t=0, b=0, autoexpand=False), paper_bgcolor="white",
                  plot_bgcolor="#EBEBEB", showlegend=False, shapes=shapes, annotations=annotations,
                  font=dict(family="DejaVu Sans"), template="none", **layout)
fig.write_html("out.html", post_script="document.body.style.margin='0';", config={"displayModeBar": False})
